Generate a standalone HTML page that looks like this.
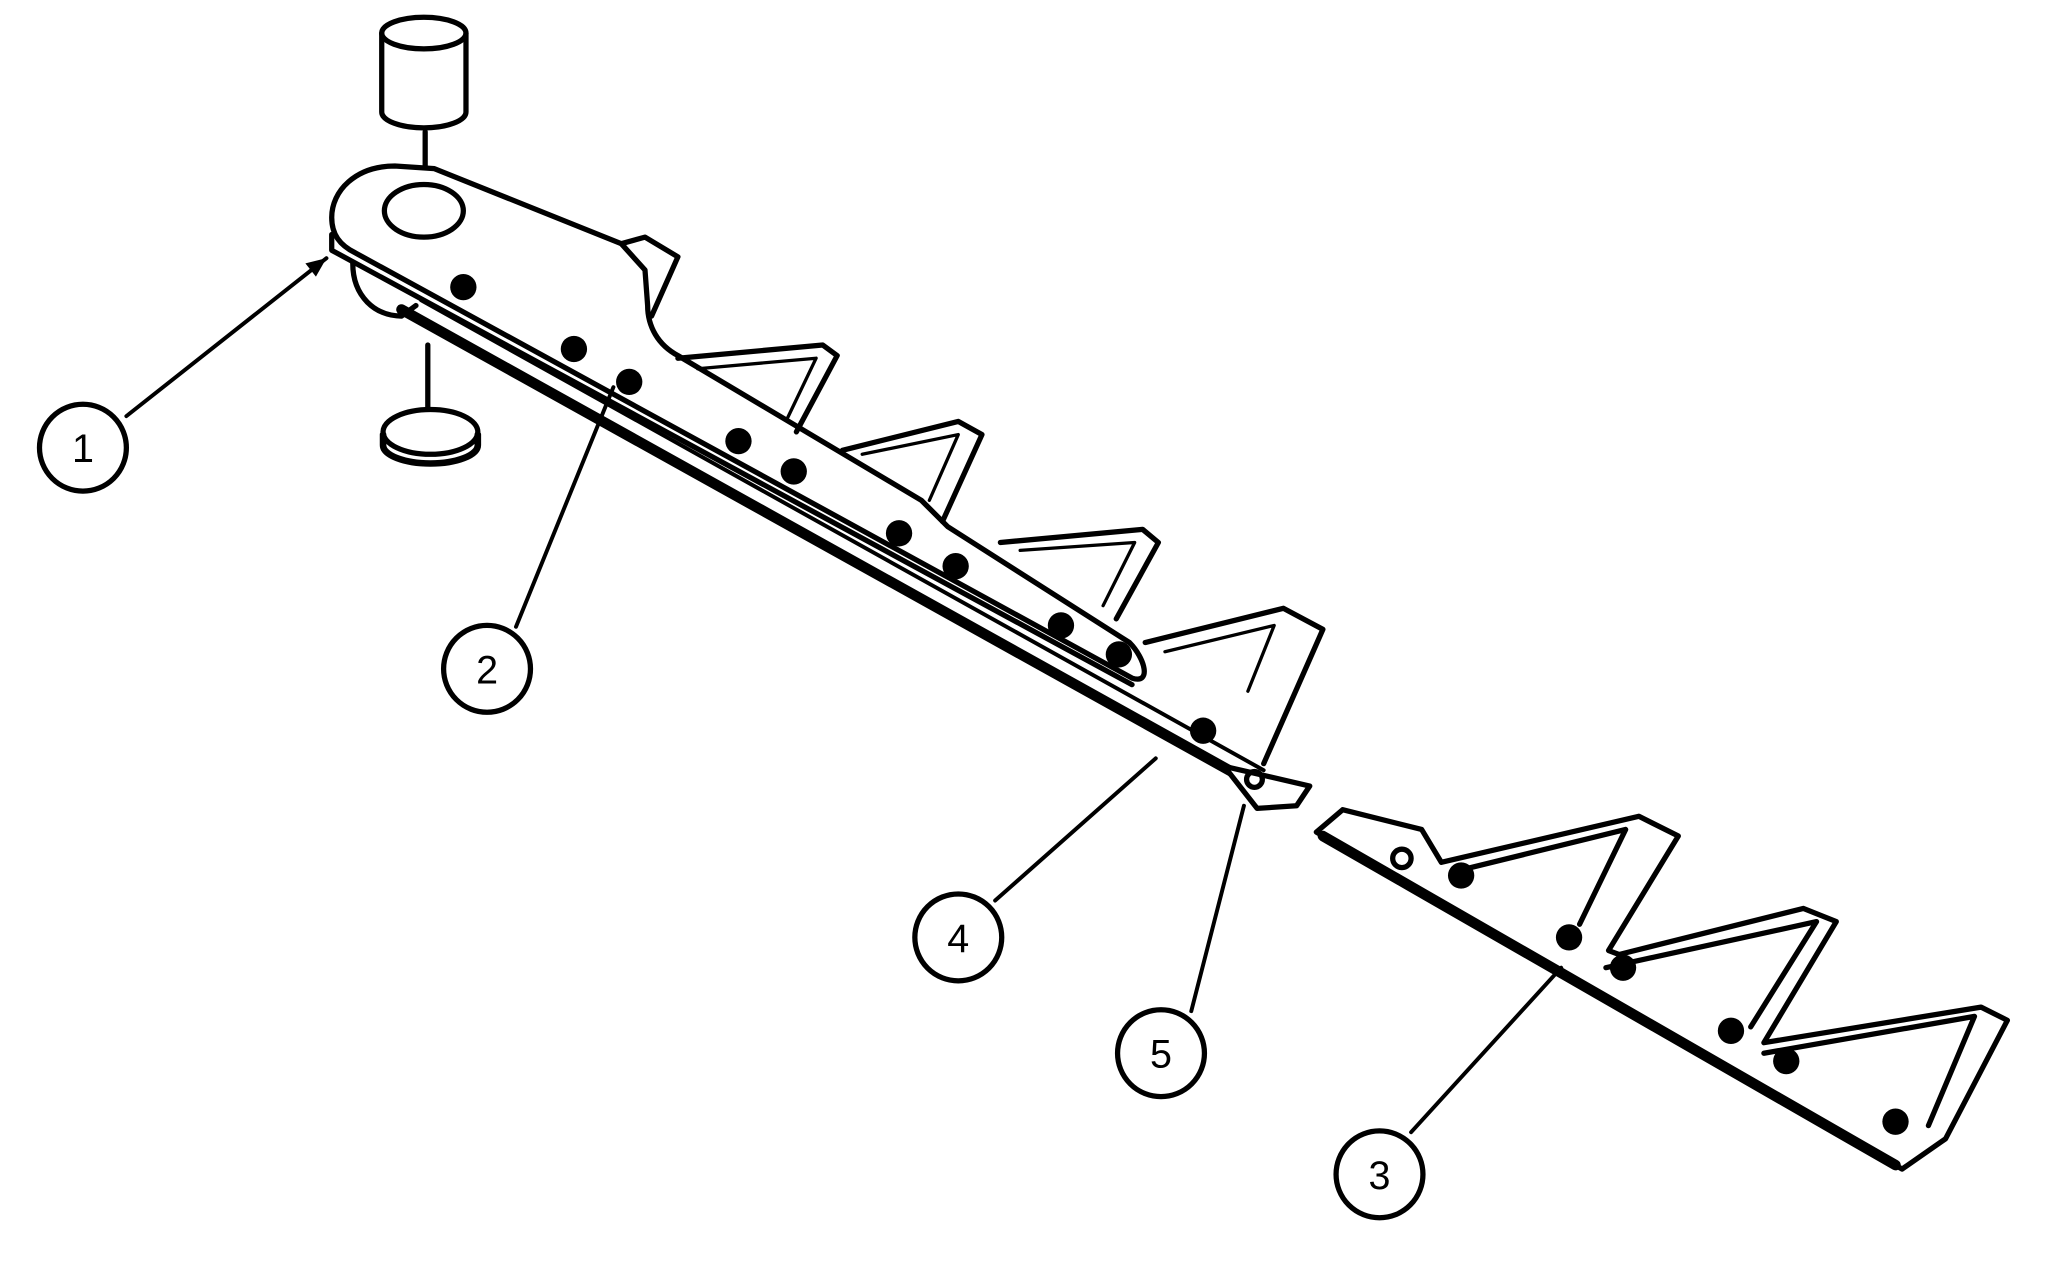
<!DOCTYPE html>
<html><head><style>html,body{margin:0;padding:0;background:#fff}svg{display:block}</style></head>
<body>
<svg width="2064" height="1264" viewBox="0 0 1568 960" xmlns="http://www.w3.org/2000/svg">
<rect width="1568" height="960" fill="#fff"/>
<g fill="none" stroke="#000" stroke-width="4" stroke-linejoin="round" stroke-linecap="round">
<!-- cylinder -->
<path d="M290 25 L290 85 A32 12 0 0 0 354 85 L354 25"/>
<ellipse cx="322" cy="25" rx="32" ry="12"/>
<line x1="323" y1="100" x2="323" y2="155"/>
<line x1="325" y1="262" x2="325" y2="310"/>
<ellipse cx="327" cy="328" rx="36" ry="17"/>
<path d="M291 330 L291 338 A36 14 0 0 0 363 338 L363 330" stroke-width="5"/>
<!-- arm -->
<path d="M300 126 C270 126 252 145 252 165 C252 178 258 186 270 192 L860 515 C875 520 870 500 858 488 L720 400 L700 380 L515 270 C500 262 492 248 492 232 L490 205 L472 185 L330 128 Z" fill="#fff"/>
<ellipse cx="322" cy="160" rx="30" ry="20"/>
<path d="M252 178 L252 190 L860 520"/>
<path d="M268 200 C268 225 285 240 305 240 L316 232"/>
<path d="M472 185 L490 180 L515 195 L495 240"/>
<!-- teeth upper -->
<path d="M515 272 L625 262 L636 270 L605 328"/>
<path d="M640 342 L728 320 L746 330 L716 396"/>
<path d="M760 412 L868 402 L880 412 L848 470"/>
<path d="M870 488 L975 462 L1005 478 L960 580"/>
<path d="M530 280 L620 272 L598 318 M655 345 L728 330 L706 380 M775 418 L862 412 L838 460 M885 495 L968 475 L948 525" stroke-width="2.5"/>
<!-- blade body -->
<path d="M305 235 L975 608" stroke-width="8"/>
<path d="M320 228 L960 585" stroke-width="3"/>
<path d="M930 582 L995 597 L985 612 L955 614 Z" fill="#fff"/>
<circle cx="953" cy="592" r="6"/>
<!-- right blade -->
<path d="M1000 632 L1020 615 L1080 630 L1095 655 L1245 620 L1275 635 L1222 722 L1230 725 L1370 690 L1395 700 L1340 792 L1505 765 L1525 775 L1478 865 L1445 888 L1000 632 Z" fill="#fff"/>
<path d="M1005 635 L1440 885" stroke-width="8"/>
<path d="M1105 662 L1235 630 L1200 702 M1220 735 L1380 700 L1330 780 M1340 800 L1500 772 L1465 855"/>
<circle cx="1065" cy="652" r="7"/>
<!-- leaders -->
<line x1="96" y1="316" x2="248" y2="196" stroke-width="3"/>
<line x1="392" y1="476" x2="466" y2="294" stroke-width="3"/>
<line x1="756" y1="684" x2="878" y2="576" stroke-width="3"/>
<line x1="905" y1="768" x2="945" y2="612" stroke-width="3"/>
<line x1="1072" y1="860" x2="1186" y2="735" stroke-width="3"/>
<circle cx="63" cy="340" r="33"/>
<circle cx="370" cy="508" r="33"/>
<circle cx="728" cy="712" r="33"/>
<circle cx="882" cy="800" r="33"/>
<circle cx="1048" cy="892" r="33"/>
</g>
<g fill="#000">
<polygon points="248,196 232,200 240,210"/>
<circle cx="352" cy="218" r="10"/><circle cx="436" cy="265" r="10"/><circle cx="478" cy="290" r="10"/>
<circle cx="561" cy="335" r="10"/><circle cx="603" cy="358" r="10"/><circle cx="683" cy="405" r="10"/>
<circle cx="726" cy="430" r="10"/><circle cx="806" cy="475" r="10"/><circle cx="850" cy="497" r="10"/>
<circle cx="914" cy="555" r="10"/>
<circle cx="1110" cy="665" r="10"/><circle cx="1192" cy="712" r="10"/><circle cx="1233" cy="735" r="10"/>
<circle cx="1315" cy="783" r="10"/><circle cx="1357" cy="806" r="10"/><circle cx="1440" cy="852" r="10"/>
</g>
<g font-family="Liberation Sans, sans-serif" font-size="30" text-anchor="middle">
<text x="63" y="351">1</text>
<text x="370" y="519">2</text>
<text x="728" y="723">4</text>
<text x="882" y="811">5</text>
<text x="1048" y="903">3</text>
</g>
</svg>
</body></html>
